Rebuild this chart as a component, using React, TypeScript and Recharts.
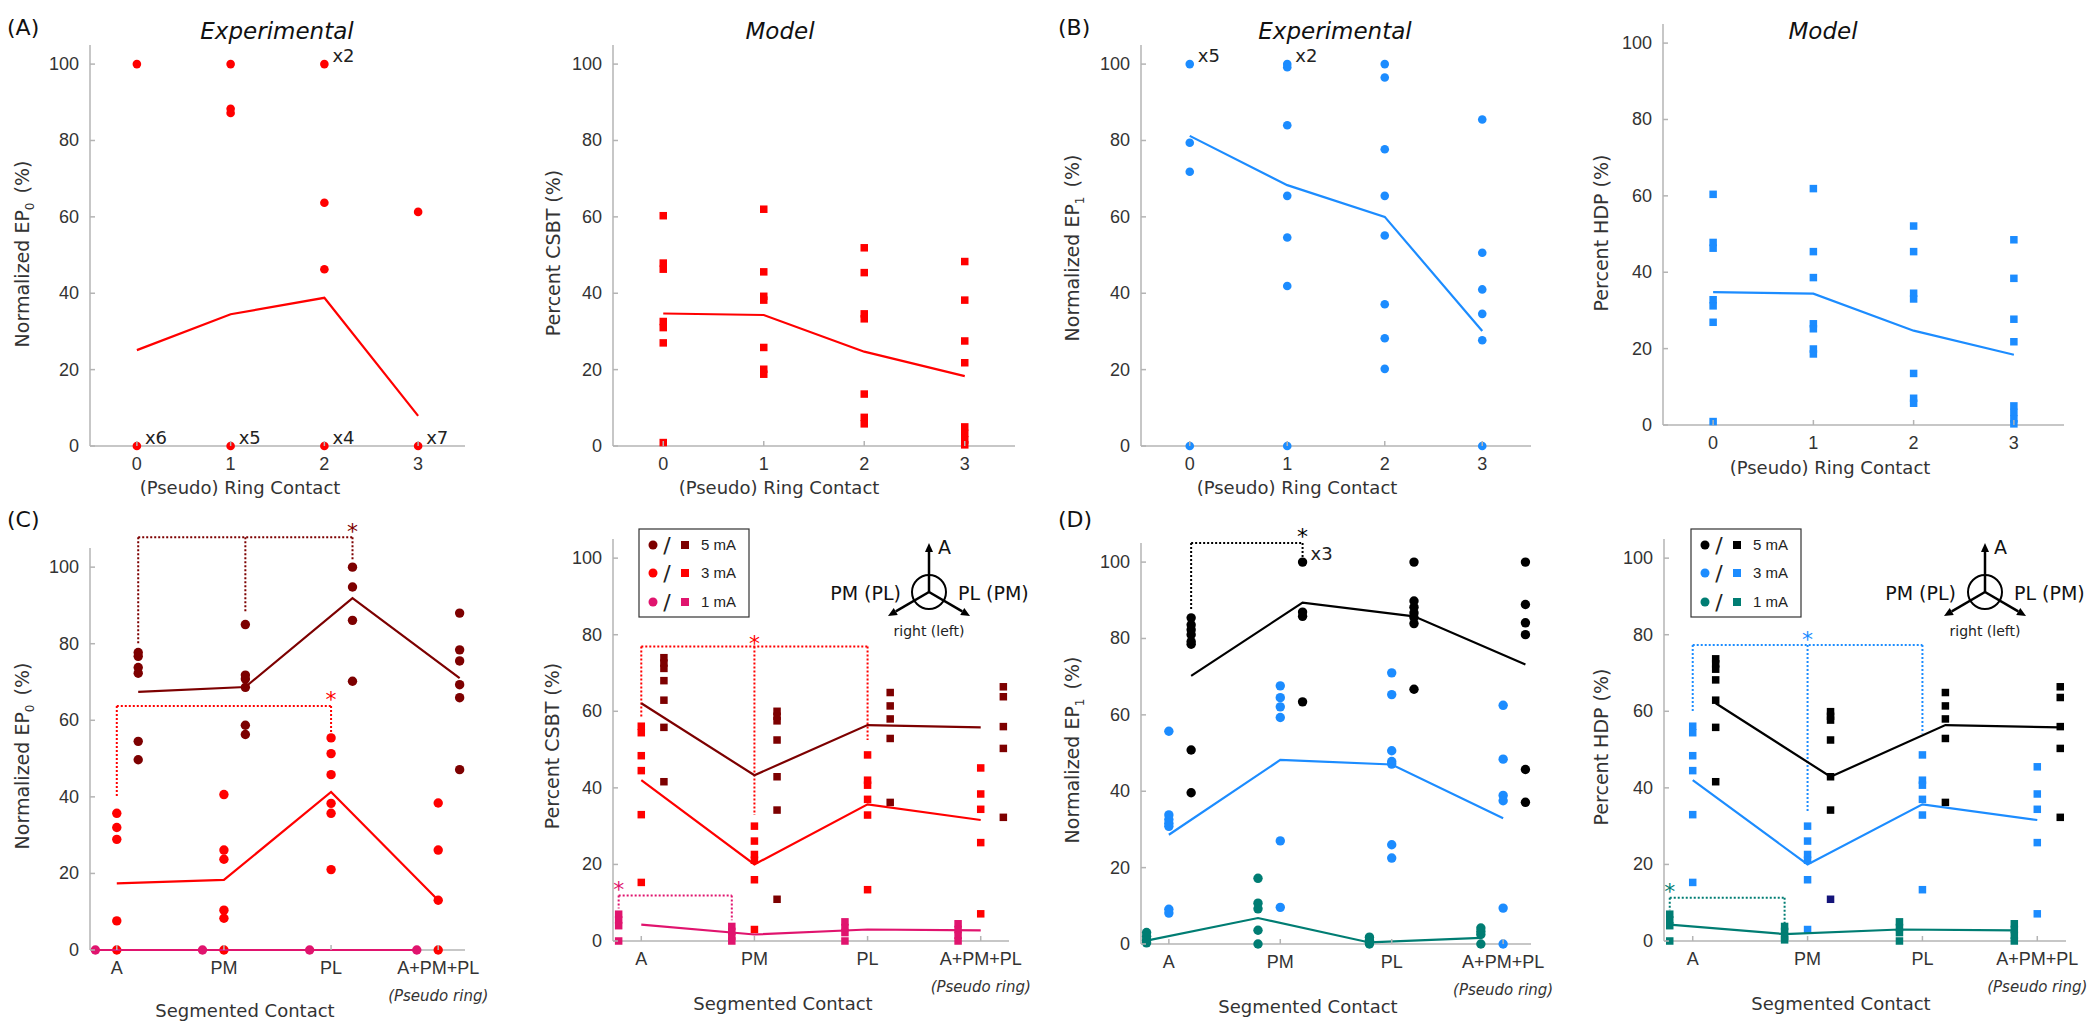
import React from 'react';
import { ScatterChart, Scatter, XAxis, YAxis, ReferenceLine, ReferenceDot } from 'recharts';

const FONT_TICK = '"Liberation Sans", Arial, sans-serif';
const FONT_LABEL = '"DejaVu Sans", Verdana, sans-serif';
const AXIS = '#b4b4b4';
const TXT = '#333333';

const RED = '#FF0000';
const DARK_RED = '#7D0000';
const PINK = '#E0146E';
const BLUE = '#1C8CFF';
const TEAL = '#007D73';
const BLACK = '#000000';
const NAVY = '#14147A';

// ---------- categories / ticks ----------
const ringContacts = [0, 1, 2, 3];
const ringTickLabels = ['0', '1', '2', '3'];
const segContacts = [0, 1, 2, 3];
const segTickLabels = ['A', 'PM', 'PL', 'A+PM+PL'];
const yTicks = [0, 20, 40, 60, 80, 100];

// ---------- (A) Experimental: Normalized EP0 vs ring contact ----------
const ep0RingValues = [[100, 0], [100, 88.3, 87.2, 0], [100, 63.7, 46.3, 0], [61.3, 0]];
const ep0RingMean = [25.1, 34.5, 38.8, 7.9];
const ep0RingCounts = [
  { cat: 0, value: 0, label: 'x6' },
  { cat: 1, value: 0, label: 'x5' },
  { cat: 2, value: 0, label: 'x4' },
  { cat: 3, value: 0, label: 'x7' },
  { cat: 2, value: 100, label: 'x2' },
];

// ---------- (A) Model: Percent CSBT vs ring contact ----------
const csbtRingValues = [
  [60.3, 47.9, 46.3, 32.6, 31, 27, 0.9],
  [62, 45.6, 39.2, 38.2, 25.8, 20.1, 18.8],
  [51.9, 45.4, 34.6, 33.3, 13.6, 7.5, 5.8],
  [48.3, 38.2, 27.5, 21.8, 5, 3.3, 1.6, 0.3],
];
const csbtRingMean = [34.7, 34.3, 24.7, 18.3];

// ---------- (B) Experimental: Normalized EP1 vs ring contact ----------
const ep1RingValues = [
  [100, 79.4, 71.8, 0],
  [100, 99.2, 84, 65.5, 54.6, 41.9, 0],
  [100, 96.5, 77.7, 65.5, 55.1, 37.1, 28.2, 20.2],
  [85.5, 50.6, 41, 34.6, 27.7, 0],
];
const ep1RingMean = [81.2, 68.3, 60, 30.1];
const ep1RingCounts = [
  { cat: 0, value: 100, label: 'x5' },
  { cat: 1, value: 100, label: 'x2' },
];

// ---------- (B) Model: Percent HDP vs ring contact ----------
const hdpRingValues = [
  [60.4, 47.8, 46.3, 32.8, 31.2, 26.9, 0.9],
  [61.9, 45.4, 38.6, 26.5, 25.2, 19.9, 18.6],
  [52.1, 45.4, 34.5, 33, 13.5, 7, 5.7],
  [48.5, 38.4, 27.7, 21.8, 5, 3.3, 1.6, 0.3],
];
const hdpRingMean = [34.8, 34.4, 24.7, 18.4];

// ---------- (C) Experimental: Normalized EP0 vs segmented contact ----------
const ep0Seg5 = [
  [77.7, 76.7, 73.8, 72.3, 54.5, 49.7],
  [85, 71.8, 70.8, 68.6, 58.7, 56.3],
  [100, 94.8, 86.1, 70.2],
  [88, 78.4, 75.5, 69.3, 65.9, 47.1],
];
const ep0Seg5Mean = [67.4, 68.7, 91.9, 71];
const ep0Seg3 = [
  [35.7, 32, 28.9, 7.6, 0],
  [40.6, 26.1, 23.7, 10.4, 8.3, 0],
  [55.4, 51.3, 45.8, 38.3, 35.7, 21],
  [38.4, 26.1, 13, 0],
];
const ep0Seg3Mean = [17.4, 18.3, 41.3, 13];
const ep0Seg1 = [[0], [0], [0], [0]];
const ep0Seg1Mean = [0, 0, 0, 0];
const ep0SegSig5 = { cats: [0, 1, 2], ends: [80, 88.3, 101.7], top: 107.8, starCat: 2, starY: 110.4 };
const ep0SegSig3 = { cats: [0, 2], ends: [40.2, 56], top: 63.7, starCat: 2, starY: 66.5 };

// ---------- (C) Model: Percent CSBT vs segmented contact ----------
const csbtSeg5 = [
  [74, 72.6, 71.2, 68, 62.9, 55.8, 41.6],
  [60, 58.7, 57.5, 52.5, 42.9, 34.2, 10.9],
  [64.9, 61.4, 58, 52.9, 36.2],
  [66.4, 63.8, 56, 50.3, 32.3],
];
const csbtSeg5Mean = [62.1, 43.3, 56.4, 55.8];
const csbtSeg3 = [
  [56.1, 54.4, 48.4, 44.5, 33, 15.3],
  [30, 26.1, 22.6, 21.1, 16, 3],
  [48.6, 42, 40.7, 37, 32.9, 13.4],
  [45.2, 38.4, 34.4, 25.7, 7.1],
];
const csbtSeg3Mean = [42, 20, 35.7, 31.6];
const csbtSeg1 = [
  [7, 5.5, 4, 0],
  [3.8, 2.5, 1.2, 0],
  [5, 3.5, 2.2, 0],
  [4.5, 3, 1.5, 0],
];
const csbtSeg1Mean = [4.3, 1.7, 3, 2.8];
const csbtSegSig3 = { cats: [0, 1, 2], ends: [58.2, 32.9, 52.5], top: 76.9, starCat: 1, starY: 79 };
const csbtSegSig1 = { cats: [0, 1], ends: [8.5, 5.4], top: 11.9, starCat: 0, starY: 14.6 };

// ---------- (D) Experimental: Normalized EP1 vs segmented contact ----------
const ep1Seg5 = [
  [85.4, 83.6, 82.3, 81, 79.2, 78.5, 50.8, 39.6],
  [100, 86.9, 85.8, 63.4],
  [100, 89.8, 88.2, 86.7, 85.5, 83.9, 66.7],
  [100, 88.9, 84.1, 81, 45.7, 37.1],
];
const ep1Seg5Mean = [70.2, 89.4, 85.8, 73.2];
const ep1Seg3 = [
  [55.7, 33.8, 32.6, 31.6, 30.8, 9.1, 8.1],
  [67.6, 64.5, 62.1, 59.3, 27, 9.6],
  [71, 65.3, 50.6, 47.8, 47.1, 26, 22.5],
  [62.5, 48.4, 38.9, 37.5, 9.4, 0],
];
const ep1Seg3Mean = [28.6, 48.2, 47, 32.9];
const ep1Seg1 = [
  [3, 2, 1, 0.3],
  [17.2, 10.7, 9.2, 3.6, 0],
  [1.8, 1, 0.4, 0],
  [4.2, 3.3, 2.5, 0],
];
const ep1Seg1Mean = [0.9, 6.8, 0.4, 1.6];
const ep1SegSig5 = { cats: [0, 1], ends: [87.4, 101.3], top: 105, starCat: 1, starY: 107.8 };
const ep1SegCounts = [{ cat: 1, value: 100, label: 'x3' }];

// ---------- (D) Model: Percent HDP vs segmented contact ----------
const hdpSeg5 = [
  [73.7, 72.4, 71, 68.2, 62.9, 55.8, 41.6],
  [59.9, 58.7, 57.7, 52.5, 42.9, 34.2],
  [64.9, 61.4, 58, 52.9, 36.2],
  [66.4, 63.6, 56, 50.3, 32.3],
];
const hdpSeg5Overlap = [[], [10.9], [], []];
const hdpSeg5Mean = [62.1, 42.9, 56.4, 55.8];
const hdpSeg3 = [
  [56.1, 54.4, 48.4, 44.5, 33, 15.3],
  [30, 26.1, 22.6, 21.1, 16, 3],
  [48.6, 42, 40.7, 37, 32.9, 13.4],
  [45.5, 38.4, 34.4, 25.7, 7.1],
];
const hdpSeg3Mean = [42, 20, 35.7, 31.6];
const hdpSeg1 = [
  [7, 5.5, 4, 0],
  [3.8, 2.5, 1.2, 0.3],
  [5, 3.5, 2.2, 0],
  [4.5, 3, 1.5, 0],
];
const hdpSeg1Mean = [4.3, 1.8, 3, 2.8];
const hdpSegSig3 = { cats: [0, 1, 2], ends: [59.6, 33.7, 54.2], top: 77.3, starCat: 1, starY: 80 };
const hdpSegSig1 = { cats: [0, 1], ends: [8, 4.5], top: 11.3, starCat: 0, starY: 14.1 };

const legendCurrents = ['5 mA', '3 mA', '1 mA'];

// ---------- types ----------
type Series = {
  values?: number[][];
  mean?: number[];
  color: string;
  marker: 'circle' | 'square';
  offset: number;
  meanOffset?: number;
};
type Sig = { cats: number[]; ends: number[]; top: number; starCat: number; starY: number };
type Bracket = Sig & { offset: number; color: string };
type Count = { cat: number; value: number; label: string; offset?: number };

interface PanelProps {
  plot: { left: number; top: number; right: number; bottom: number };
  xDomain: [number, number];
  cats: number[];
  tickLabels: string[];
  series: Series[];
  brackets?: Bracket[];
  counts?: Count[];
  pseudoRing?: boolean;
  r: number;
  sq: number;
}

function Panel(p: PanelProps) {
  const mT = 60, mR = 60, mB = 60, mL = 20, yW = 60, xH = 30;
  const pw = p.plot.right - p.plot.left;
  const ph = p.plot.bottom - p.plot.top;
  const width = pw + mL + yW + mR;
  const height = ph + mT + xH + mB;
  const left = p.plot.left - mL - yW;
  const top = p.plot.top - mT;

  const renderXTick = (tp: any) => {
    const idx = p.cats.indexOf(tp.payload.value);
    const label = p.tickLabels[idx];
    return (
      <g>
        <line x1={tp.x} x2={tp.x} y1={tp.y - 8} y2={tp.y - 13} stroke={AXIS} strokeWidth={1.5} />
        <text x={tp.x} y={tp.y + 16} textAnchor="middle" fontSize={18} fontFamily={FONT_TICK} fill={TXT}>
          {label}
        </text>
        {p.pseudoRing && idx === p.cats.length - 1 ? (
          <text x={tp.x} y={tp.y + 43} textAnchor="middle" fontSize={15} fontStyle="italic" fontFamily={FONT_LABEL} fill={TXT}>
            (Pseudo ring)
          </text>
        ) : null}
      </g>
    );
  };

  const renderYTick = (tp: any) => (
    <g>
      <line x1={tp.x + 11} x2={tp.x + 16} y1={tp.y} y2={tp.y} stroke={AXIS} strokeWidth={1.5} />
      <text x={tp.x} y={tp.y + 6} textAnchor="end" fontSize={18} fontFamily={FONT_TICK} fill={TXT}>
        {tp.payload.value}
      </text>
    </g>
  );

  const shapeFor = (s: Series) => {
    if (s.marker === 'circle') {
      return (sp: any) => <circle cx={sp.cx} cy={sp.cy} r={p.r} fill={s.color} />;
    }
    return (sp: any) => <rect x={sp.cx - p.sq / 2} y={sp.cy - p.sq / 2} width={p.sq} height={p.sq} fill={s.color} />;
  };

  const elements: React.ReactNode[] = [];
  p.series.forEach((s, si) => {
    if (s.values) {
      const pts = p.cats.flatMap((c, i) => (s.values![i] || []).map((v) => ({ x: c + s.offset, y: v })));
      elements.push(
        <Scatter key={`pts${si}`} data={pts} shape={shapeFor(s)} isAnimationActive={false} />
      );
    }
  });
  p.series.forEach((s, si) => {
    if (s.mean) {
      const mo = s.meanOffset ?? s.offset;
      const mpts = p.cats.map((c, i) => ({ x: c + mo, y: s.mean![i] }));
      elements.push(
        <Scatter
          key={`mean${si}`}
          data={mpts}
          line={{ stroke: s.color, strokeWidth: 2.2 }}
          shape={() => <g />}
          isAnimationActive={false}
        />
      );
    }
  });
  (p.brackets || []).forEach((b, bi) => {
    const xs = b.cats.map((c) => c + b.offset);
    const segs = [
      [{ x: xs[0], y: b.top }, { x: xs[xs.length - 1], y: b.top }],
      ...xs.map((x, i) => [{ x, y: b.top }, { x, y: b.ends[i] }]),
    ];
    segs.forEach((sg, k) => {
      elements.push(
        <ReferenceLine
          key={`br${bi}-${k}`}
          segment={sg as any}
          stroke={b.color}
          strokeWidth={2}
          strokeDasharray="2 2"
          ifOverflow="visible"
        />
      );
    });
    elements.push(
      <ReferenceDot
        key={`star${bi}`}
        x={b.starCat + b.offset}
        y={b.starY}
        r={0}
        ifOverflow="visible"
        shape={(dp: any) => (
          <text x={dp.cx} y={dp.cy + 12} textAnchor="middle" fontSize={22} fill={b.color} fontFamily={FONT_LABEL}>
            *
          </text>
        )}
      />
    );
  });
  (p.counts || []).forEach((c, ci) => {
    elements.push(
      <ReferenceDot
        key={`cnt${ci}`}
        x={c.cat + (c.offset || 0)}
        y={c.value}
        r={0}
        ifOverflow="visible"
        shape={(dp: any) => (
          <text x={dp.cx + 8} y={dp.cy - 2} textAnchor="start" fontSize={18} fill="#222" fontFamily={FONT_LABEL}>
            {c.label}
          </text>
        )}
      />
    );
  });

  return (
    <div style={{ position: 'absolute', left, top, width, height }}>
      <ScatterChart width={width} height={height} margin={{ top: mT, right: mR, bottom: mB, left: mL }}>
        <XAxis
          type="number"
          dataKey="x"
          domain={p.xDomain}
          ticks={p.cats}
          interval={0}
          tick={renderXTick}
          tickLine={false}
          tickSize={6}
          tickMargin={2}
          height={xH}
          axisLine={{ stroke: AXIS, strokeWidth: 1.5 }}
        />
        <YAxis
          type="number"
          dataKey="y"
          domain={[0, 105]}
          ticks={yTicks}
          interval={0}
          width={yW}
          tickLine={false}
          tickSize={6}
          tickMargin={5}
          tick={renderYTick}
          axisLine={{ stroke: AXIS, strokeWidth: 1.5 }}
        />
        {elements}
      </ScatterChart>
    </div>
  );
}

// ---------- panel configs ----------
const panels: PanelProps[] = [
  {
    plot: { left: 90, top: 45, right: 465, bottom: 446 },
    xDomain: [-0.5, 3.5], cats: ringContacts, tickLabels: ringTickLabels, r: 4.3, sq: 7.5,
    series: [{ values: ep0RingValues, mean: ep0RingMean, color: RED, marker: 'circle', offset: 0 }],
    counts: ep0RingCounts,
  },
  {
    plot: { left: 613, top: 45, right: 1015, bottom: 446 },
    xDomain: [-0.5, 3.5], cats: ringContacts, tickLabels: ringTickLabels, r: 4.3, sq: 7.5,
    series: [{ values: csbtRingValues, mean: csbtRingMean, color: RED, marker: 'square', offset: 0 }],
  },
  {
    plot: { left: 1141, top: 45, right: 1531, bottom: 446 },
    xDomain: [-0.5, 3.5], cats: ringContacts, tickLabels: ringTickLabels, r: 4.3, sq: 7.5,
    series: [{ values: ep1RingValues, mean: ep1RingMean, color: BLUE, marker: 'circle', offset: 0 }],
    counts: ep1RingCounts,
  },
  {
    plot: { left: 1663, top: 24, right: 2064, bottom: 425 },
    xDomain: [-0.5, 3.5], cats: ringContacts, tickLabels: ringTickLabels, r: 4.3, sq: 7.5,
    series: [{ values: hdpRingValues, mean: hdpRingMean, color: BLUE, marker: 'square', offset: 0 }],
  },
  {
    plot: { left: 90, top: 548, right: 465, bottom: 950 },
    xDomain: [-0.25, 3.25], cats: segContacts, tickLabels: segTickLabels, r: 4.7, sq: 7.5, pseudoRing: true,
    series: [
      { values: ep0Seg5, mean: ep0Seg5Mean, color: DARK_RED, marker: 'circle', offset: 0.2 },
      { values: ep0Seg3, mean: ep0Seg3Mean, color: RED, marker: 'circle', offset: 0 },
      { values: ep0Seg1, mean: ep0Seg1Mean, color: PINK, marker: 'circle', offset: -0.2 },
    ],
    brackets: [
      { ...ep0SegSig5, offset: 0.2, color: DARK_RED },
      { ...ep0SegSig3, offset: 0, color: RED },
    ],
  },
  {
    plot: { left: 613, top: 539, right: 1009, bottom: 941 },
    xDomain: [-0.25, 3.25], cats: segContacts, tickLabels: segTickLabels, r: 4.7, sq: 7.5, pseudoRing: true,
    series: [
      { values: csbtSeg5, mean: csbtSeg5Mean, color: DARK_RED, marker: 'square', offset: 0.2, meanOffset: 0 },
      { values: csbtSeg3, mean: csbtSeg3Mean, color: RED, marker: 'square', offset: 0 },
      { values: csbtSeg1, mean: csbtSeg1Mean, color: PINK, marker: 'square', offset: -0.2, meanOffset: 0 },
    ],
    brackets: [
      { ...csbtSegSig3, offset: 0, color: RED },
      { ...csbtSegSig1, offset: -0.2, color: PINK },
    ],
  },
  {
    plot: { left: 1141, top: 543, right: 1531, bottom: 944 },
    xDomain: [-0.25, 3.25], cats: segContacts, tickLabels: segTickLabels, r: 4.7, sq: 7.5, pseudoRing: true,
    series: [
      { values: ep1Seg5, mean: ep1Seg5Mean, color: BLACK, marker: 'circle', offset: 0.2 },
      { values: ep1Seg3, mean: ep1Seg3Mean, color: BLUE, marker: 'circle', offset: 0 },
      { values: ep1Seg1, mean: ep1Seg1Mean, color: TEAL, marker: 'circle', offset: -0.2 },
    ],
    brackets: [{ ...ep1SegSig5, offset: 0.2, color: BLACK }],
    counts: ep1SegCounts.map((c) => ({ ...c, offset: 0.2 })),
  },
  {
    plot: { left: 1664, top: 539, right: 2066, bottom: 941 },
    xDomain: [-0.25, 3.25], cats: segContacts, tickLabels: segTickLabels, r: 4.7, sq: 7.5, pseudoRing: true,
    series: [
      { values: hdpSeg5, mean: hdpSeg5Mean, color: BLACK, marker: 'square', offset: 0.2 },
      { values: hdpSeg5Overlap, color: NAVY, marker: 'square', offset: 0.2 },
      { values: hdpSeg3, mean: hdpSeg3Mean, color: BLUE, marker: 'square', offset: 0 },
      { values: hdpSeg1, mean: hdpSeg1Mean, color: TEAL, marker: 'square', offset: -0.2 },
    ],
    brackets: [
      { ...hdpSegSig3, offset: 0, color: BLUE },
      { ...hdpSegSig1, offset: -0.2, color: TEAL },
    ],
  },
];

// ---------- overlay text / decorations ----------
function YLabel({ x, y, main, sub, tail }: { x: number; y: number; main: string; sub?: string; tail: string }) {
  return (
    <text transform={`translate(${x},${y}) rotate(-90)`} textAnchor="middle" fontSize={19} fontFamily={FONT_LABEL} fill={TXT}>
      {main}
      {sub ? <tspan fontSize={12} dy={5}>{sub}</tspan> : null}
      <tspan dy={sub ? -5 : 0} dx={sub ? 9 : 0}>{tail}</tspan>
    </text>
  );
}

function LegendBox({ x, y, colors }: { x: number; y: number; colors: string[] }) {
  const rows = [16, 44, 73];
  return (
    <g>
      <rect x={x} y={y} width={110} height={88} fill="#fff" stroke="#333" strokeWidth={1.2} />
      {colors.map((c, i) => (
        <g key={i}>
          <circle cx={x + 14} cy={y + rows[i]} r={4.5} fill={c} />
          <text x={x + 28} y={y + rows[i] + 8} textAnchor="middle" fontSize={22} fontFamily={FONT_LABEL} fill="#222">/</text>
          <rect x={x + 42} y={y + rows[i] - 4} width={8} height={8} fill={c} />
          <text x={x + 62} y={y + rows[i] + 5} fontSize={15} fontFamily={FONT_TICK} fill="#222">{legendCurrents[i]}</text>
        </g>
      ))}
    </g>
  );
}

function Compass({ cx, cy, leftEnd, rightStart }: { cx: number; cy: number; leftEnd: number; rightStart: number }) {
  const arms = [[0, -49], [-41, 24], [41, 24]];
  return (
    <g>
      <circle cx={cx} cy={cy} r={17} fill="none" stroke="#000" strokeWidth={2} />
      {arms.map(([dx, dy], i) => {
        const len = Math.hypot(dx, dy);
        const ux = dx / len, uy = dy / len;
        const tx = cx + dx, ty = cy + dy;
        const bx = tx - ux * 9, by = ty - uy * 9;
        const px = -uy * 4, py = ux * 4;
        return (
          <g key={i}>
            <line x1={cx} y1={cy} x2={bx} y2={by} stroke="#000" strokeWidth={2.5} />
            <polygon points={`${tx},${ty} ${bx + px},${by + py} ${bx - px},${by - py}`} fill="#000" />
          </g>
        );
      })}
      <text x={cx + 9} y={cy - 38} fontSize={19} fontFamily={FONT_LABEL} fill="#111">A</text>
      <text x={leftEnd} y={cy + 8} textAnchor="end" fontSize={19} fontFamily={FONT_LABEL} fill="#111">PM (PL)</text>
      <text x={rightStart} y={cy + 8} textAnchor="start" fontSize={19} fontFamily={FONT_LABEL} fill="#111">PL (PM)</text>
      <text x={cx} y={cy + 44} textAnchor="middle" fontSize={14} fontFamily={FONT_LABEL} fill="#222">right (left)</text>
    </g>
  );
}

function Overlay() {
  const title = { fontSize: 23, fontStyle: 'italic' as const, fontFamily: FONT_LABEL, fill: '#111', textAnchor: 'middle' as const };
  const panelLbl = { fontSize: 22, fontFamily: FONT_LABEL, fill: '#111' };
  const xl = { fontSize: 18, fontFamily: FONT_LABEL, fill: TXT, textAnchor: 'middle' as const };
  return (
    <svg width={2100} height={1027} style={{ position: 'absolute', left: 0, top: 0, pointerEvents: 'none' }}>
      <text x={7} y={35} {...panelLbl}>(A)</text>
      <text x={1058} y={35} {...panelLbl}>(B)</text>
      <text x={7} y={527} {...panelLbl}>(C)</text>
      <text x={1058} y={527} {...panelLbl}>(D)</text>

      <text x={277} y={39} {...title}>Experimental</text>
      <text x={780} y={39} {...title}>Model</text>
      <text x={1335} y={39} {...title}>Experimental</text>
      <text x={1823} y={39} {...title}>Model</text>

      <YLabel x={29} y={254} main="Normalized EP" sub="0" tail="(%)" />
      <YLabel x={560} y={253} main="Percent CSBT (%)" tail="" />
      <YLabel x={1079} y={248} main="Normalized EP" sub="1" tail="(%)" />
      <YLabel x={1608} y={233} main="Percent HDP (%)" tail="" />
      <YLabel x={29} y={756} main="Normalized EP" sub="0" tail="(%)" />
      <YLabel x={559} y={746} main="Percent CSBT (%)" tail="" />
      <YLabel x={1079} y={750} main="Normalized EP" sub="1" tail="(%)" />
      <YLabel x={1608} y={747} main="Percent HDP (%)" tail="" />

      <text x={240} y={494} {...xl}>(Pseudo) Ring Contact</text>
      <text x={779} y={494} {...xl}>(Pseudo) Ring Contact</text>
      <text x={1297} y={494} {...xl}>(Pseudo) Ring Contact</text>
      <text x={1830} y={474} {...xl}>(Pseudo) Ring Contact</text>
      <text x={245} y={1017} {...xl}>Segmented Contact</text>
      <text x={783} y={1010} {...xl}>Segmented Contact</text>
      <text x={1308} y={1013} {...xl}>Segmented Contact</text>
      <text x={1841} y={1010} {...xl}>Segmented Contact</text>

      <LegendBox x={639} y={529} colors={[DARK_RED, RED, PINK]} />
      <LegendBox x={1691} y={529} colors={[BLACK, BLUE, TEAL]} />
      <Compass cx={929} cy={592} leftEnd={901} rightStart={958} />
      <Compass cx={1985} cy={592} leftEnd={1956} rightStart={2014} />
    </svg>
  );
}

export default function App() {
  return (
    <div style={{ position: 'absolute', left: 0, top: 0, width: 2100, height: 1027, overflow: 'hidden', background: '#fff' }}>
      {panels.map((p, i) => (
        <Panel key={i} {...p} />
      ))}
      <Overlay />
    </div>
  );
}
